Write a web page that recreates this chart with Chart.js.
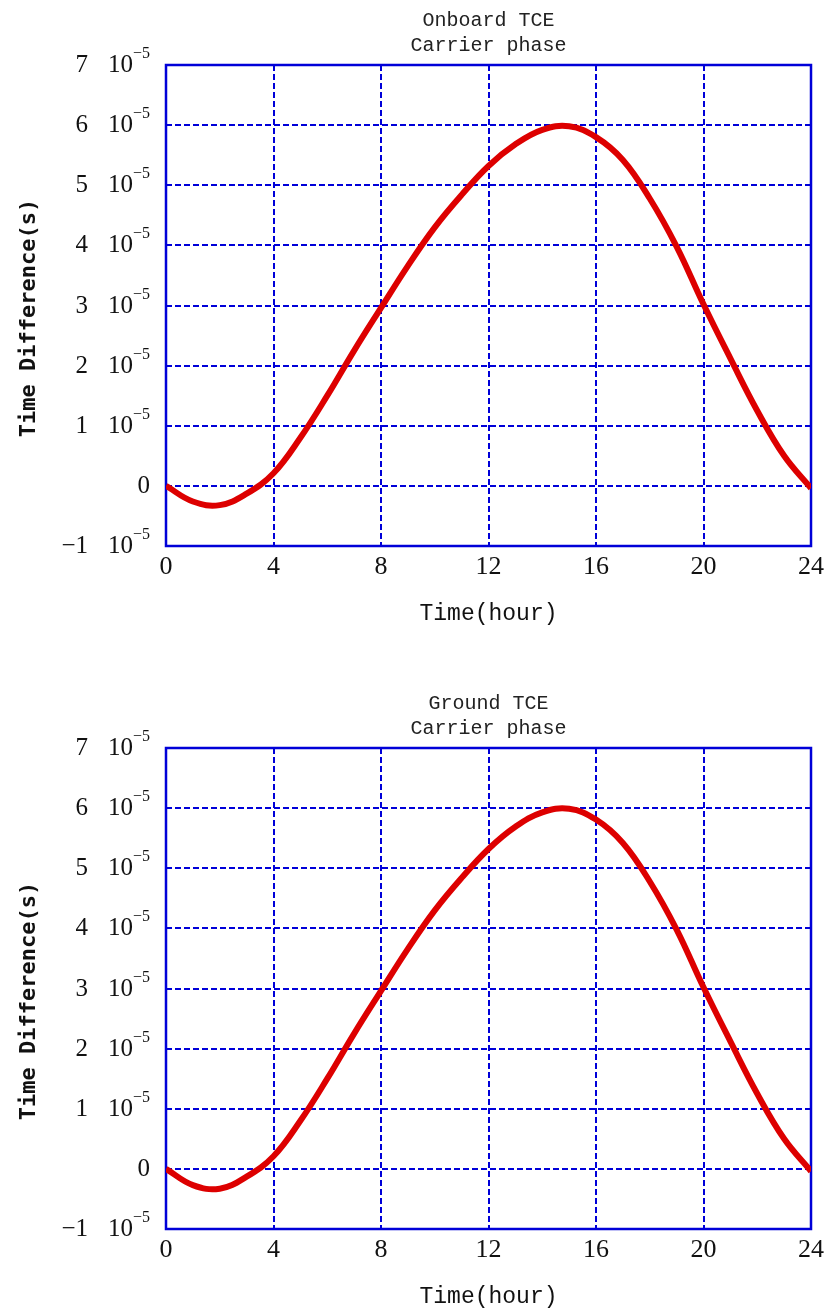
<!DOCTYPE html>
<html>
<head>
<meta charset="utf-8">
<script src="https://cdn.jsdelivr.net/npm/chart.js@4/dist/chart.umd.min.js"></script>
<style>
  body { margin: 0; background: #fff; }
  .panel { position: absolute; left: 0; width: 830px; height: 631px; }
  #panelOnboard { top: 0; }
  #panelGround { top: 683px; }
</style>
</head>
<body>
<div class="panel" id="panelOnboard"><canvas id="graficoOnboard"></canvas></div>
<div class="panel" id="panelGround"><canvas id="graficoGround"></canvas></div>
<script>
// Datos (diferencia de tiempo en unidades de 1e-5 s)
const hours = [0, 1, 2, 3, 4, 5, 6, 7, 8, 9, 10, 11, 12, 13, 14, 15, 16, 17, 18, 19, 20, 21, 22, 23, 24];
const onboardDiff = [0, -0.26, -0.32, -0.13, 0.21, 0.8, 1.5, 2.25, 2.96, 3.66, 4.3, 4.84, 5.32, 5.68, 5.92, 5.98, 5.8, 5.42, 4.78, 3.98, 3.02, 2.12, 1.25, 0.5, -0.04];
const groundDiff = [0, -0.27, -0.33, -0.13, 0.21, 0.8, 1.5, 2.25, 2.96, 3.66, 4.3, 4.84, 5.32, 5.69, 5.93, 5.99, 5.81, 5.42, 4.78, 3.98, 3.02, 2.12, 1.25, 0.5, -0.04];
const xTickStep = 4;
const yTickStep = 1;
const yExponent = '\u22125';

const AZUL = '#0000d8';
const ROJO = '#dd0000';

// Marco, títulos y etiquetas del eje Y con exponente
const marcoPlugin = {
    id: 'marco',
    beforeDatasetsDraw(chart) {
        const { ctx, chartArea: a } = chart;
        ctx.save();
        ctx.strokeStyle = AZUL;
        ctx.lineWidth = 2.5;
        ctx.strokeRect(a.left, a.top, a.right - a.left, a.bottom - a.top);
        ctx.restore();
    },
    afterDraw(chart) {
        const { ctx, chartArea: a } = chart;
        const lineas = chart.options.plugins.marco.titulo;
        ctx.save();
        ctx.fillStyle = '#222';
        ctx.textAlign = 'center';
        ctx.textBaseline = 'middle';
        ctx.font = '20px "Liberation Mono", monospace';
        const cx = (a.left + a.right) / 2;
        lineas.forEach((t, i) => ctx.fillText(t, cx, 21 + i * 25));

        // título del eje Y
        ctx.save();
        ctx.translate(29, 318);
        ctx.rotate(-Math.PI / 2);
        ctx.font = 'bold 22px "DejaVu Sans Mono", monospace';
        ctx.fillStyle = '#111';
        ctx.fillText('Time Difference(s)', 0, 0);
        ctx.restore();

        // etiquetas del eje Y
        const y = chart.scales.y;
        ctx.textAlign = 'right';
        ctx.textBaseline = 'alphabetic';
        ctx.fillStyle = '#111';
        y.ticks.forEach(t => {
            const gy = y.getPixelForValue(t.value) + 7;
            const mant = String(t.value).replace('-', '\u2212');
            if (t.value === 0) {
                ctx.font = '25px "Liberation Serif", serif';
                ctx.fillText('0', 150, gy);
                return;
            }
            ctx.font = '16px "Liberation Serif", serif';
            const wSup = ctx.measureText(yExponent).width;
            ctx.fillText(yExponent, 150, gy - 14);
            ctx.font = '25px "Liberation Serif", serif';
            ctx.fillText('10', 150 - wSup, gy);
            ctx.fillText(mant, 88, gy);
        });
        ctx.restore();
    }
};

function crearGrafico(id, valores, titulo) {
    const ctx = document.getElementById(id);
    return new Chart(ctx, {
        type: 'line',
        data: {
            datasets: [{
                data: hours.map((h, i) => ({ x: h, y: valores[i] })),
                borderColor: ROJO,
                borderWidth: 6,
                pointRadius: 0,
                tension: 0.4,
                fill: false
            }]
        },
        options: {
            responsive: true,
            maintainAspectRatio: false,
            animation: false,
            layout: { padding: { top: 65, right: 18, left: 0, bottom: 0 } },
            plugins: {
                legend: { display: false },
                tooltip: { enabled: false },
                marco: { titulo: titulo }
            },
            scales: {
                x: {
                    type: 'linear',
                    min: 0,
                    max: 24,
                    ticks: {
                        stepSize: xTickStep,
                        padding: 6,
                        color: '#111',
                        font: { family: '"Liberation Serif", serif', size: 26 }
                    },
                    grid: { color: AZUL, lineWidth: 2, drawTicks: false },
                    border: { display: false, dash: [6, 3] },
                    title: {
                        display: true,
                        text: 'Time(hour)',
                        color: '#111',
                        padding: { top: 0, bottom: 3 },
                        font: { family: '"Liberation Mono", monospace', size: 23 }
                    },
                    afterFit: s => { s.height = 85; }
                },
                y: {
                    min: -1,
                    max: 7,
                    ticks: { stepSize: yTickStep, display: false },
                    grid: { color: AZUL, lineWidth: 2, drawTicks: false },
                    border: { display: false, dash: [6, 3] },
                    afterFit: s => { s.width = 166; }
                }
            }
        },
        plugins: [marcoPlugin]
    });
}

crearGrafico('graficoOnboard', onboardDiff, ['Onboard TCE', 'Carrier phase']);
crearGrafico('graficoGround', groundDiff, ['Ground TCE', 'Carrier phase']);
</script>
</body>
</html>
